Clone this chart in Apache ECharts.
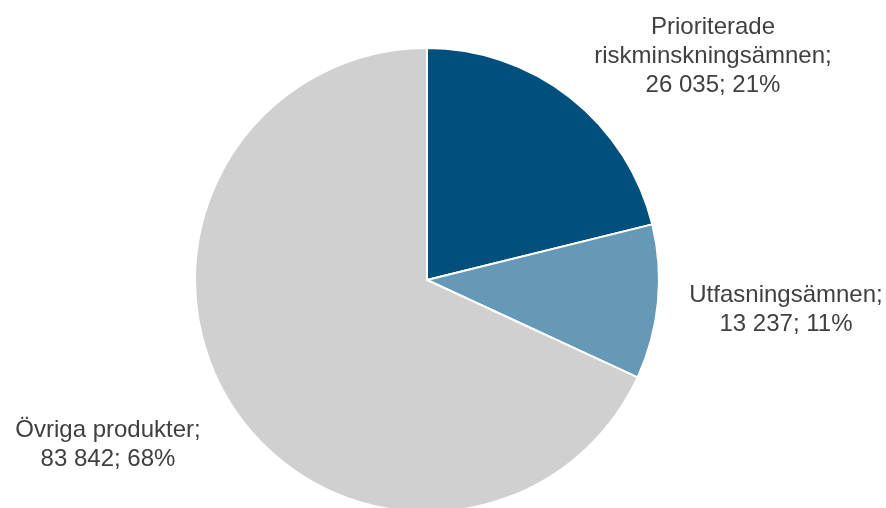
<!DOCTYPE html>
<html><head><meta charset="utf-8">
<script src="https://cdn.jsdelivr.net/npm/echarts@6/dist/echarts.min.js"></script>
<style>html,body{margin:0;padding:0;background:#fff}#c{width:886px;height:508px}</style>
</head><body><div id="c"></div>
<script>
const categories = ['Prioriterade\nriskminskningsämnen', 'Utfasningsämnen', 'Övriga produkter'];
const values = [26035, 13237, 83842];
const colors = ['#004f7c', '#6699b8', '#d0d0d0'];
const labelPos = [[713, 56], [786, 310], [108, 445]];

const total = values.reduce((a, b) => a + b, 0);
const fmt = v => String(v).replace(/\B(?=(\d{3})+(?!\d))/g, ' ');

const chart = echarts.init(document.getElementById('c'));
chart.setOption({
  animation: false,
  series: [{
    type: 'pie',
    center: [427, 280],
    radius: 232,
    startAngle: 90,
    clockwise: true,
    itemStyle: { borderColor: '#fff', borderWidth: 2 },
    label: {
      show: true,
      position: 'inside',
      overflow: 'none',
      color: '#404040',
      fontFamily: 'Liberation Sans, Arial, sans-serif',
      fontSize: 24,
      lineHeight: 29,
      align: 'center',
      formatter: p => p.name + ';\n' + fmt(p.value) + '; ' + Math.round(p.value / total * 100) + '%'
    },
    labelLine: { show: false },
    labelLayout: p => ({ x: labelPos[p.dataIndex][0], y: labelPos[p.dataIndex][1], align: 'center', verticalAlign: 'middle' }),
    emphasis: { disabled: true },
    data: categories.map((n, i) => ({ name: n, value: values[i], itemStyle: { color: colors[i] } }))
  }]
});
</script></body></html>
